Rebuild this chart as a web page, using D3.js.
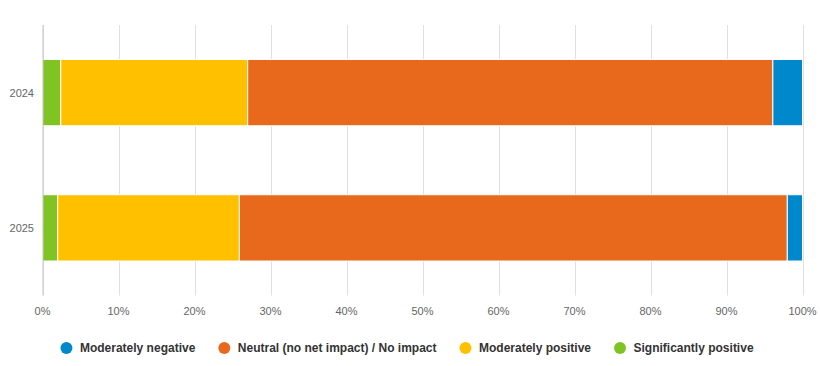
<!DOCTYPE html>
<html><head><meta charset="utf-8">
<script src="https://cdn.jsdelivr.net/npm/d3@7"></script>
<style>body{margin:0;background:#fff}svg{display:block}</style>
</head><body><svg id="c" width="820" height="366"></svg>
<script>
const categories = ["2024", "2025"];
const seriesNames = ["Moderately negative", "Neutral (no net impact) / No impact", "Moderately positive", "Significantly positive"];
const seriesColors = ["#0088cc", "#e8691b", "#ffc000", "#80c423"];
// values per series, aligned with categories (percent)
const moderatelyNegative = [3.9, 2.0];
const neutral = [69.1, 72.1];
const moderatelyPositive = [24.6, 23.9];
const significantlyPositive = [2.4, 2.0];
const tickValues = [0, 0.1, 0.2, 0.3, 0.4, 0.5, 0.6, 0.7, 0.8, 0.9, 1.0];

const seriesValues = [moderatelyNegative, neutral, moderatelyPositive, significantlyPositive];
const svg = d3.select("#c");
const font = "'Liberation Sans', Arial, sans-serif";
const m = {l: 42.5, r: 17.5, t: 25, b: 70.5};
const W = 820, H = 366;
const x = d3.scaleLinear().domain([0, 1]).range([m.l, W - m.r]);
const y = d3.scaleBand().domain(categories).range([m.t, H - m.b]).paddingInner(0.51).paddingOuter(0.255);

// gridlines
svg.append("g").selectAll("line").data(tickValues).join("line")
  .attr("x1", d => Math.round(x(d)) + 0.5).attr("x2", d => Math.round(x(d)) + 0.5)
  .attr("y1", m.t).attr("y2", H - m.b)
  .attr("stroke", "#e0e0e0").attr("stroke-width", 1);

// bars: stack from significantly positive (left) to moderately negative (right)
const rows = categories.map((c, i) => {
  const o = {cat: c};
  seriesNames.forEach((s, j) => o[s] = seriesValues[j][i]);
  return o;
});
const stackOrder = seriesNames.slice().reverse();
const stack = d3.stack().keys(stackOrder).offset(d3.stackOffsetExpand)(rows);
svg.append("g").selectAll("g").data(stack).join("g")
  .attr("fill", d => seriesColors[seriesNames.indexOf(d.key)])
  .selectAll("rect").data(d => d).join("rect")
  .attr("x", d => x(d[0]))
  .attr("width", d => x(d[1]) - x(d[0]))
  .attr("y", d => y(d.data.cat))
  .attr("height", y.bandwidth())
  .attr("stroke", "#fff").attr("stroke-width", 1);

// left axis line
svg.append("line").attr("x1", m.l + 0.5).attr("x2", m.l + 0.5).attr("y1", m.t).attr("y2", H - m.b)
  .attr("stroke", "#c3c3cc").attr("stroke-width", 1);

// category labels
svg.append("g").selectAll("text").data(categories).join("text")
  .attr("x", 34).attr("y", d => y(d) + y.bandwidth() / 2 + 4)
  .attr("text-anchor", "end").attr("font-family", font).attr("font-size", 11).attr("fill", "#666")
  .text(d => d);

// x tick labels
const fmt = d3.format(".0%");
svg.append("g").selectAll("text").data(tickValues).join("text")
  .attr("x", d => x(d)).attr("y", 315)
  .attr("text-anchor", "middle").attr("font-family", font).attr("font-size", 11).attr("fill", "#666")
  .text(d => fmt(d));

// legend
const lg = svg.append("g");
const items = [];
seriesNames.forEach((s, i) => {
  const g = lg.append("g");
  g.append("circle").attr("cx", 6).attr("cy", 0).attr("r", 6).attr("fill", seriesColors[i]);
  const t = g.append("text").attr("x", 19.5).attr("y", 4.3).attr("font-family", font).attr("font-size", 12)
    .attr("font-weight", "bold").attr("fill", "#333").text(s);
  const w = 19.5 + t.node().getComputedTextLength();
  items.push({g, w});
});
const gap = 23;
const total = items.reduce((a, b) => a + b.w, 0) + gap * (items.length - 1);
let start = 407 - total / 2;
items.forEach(it => { it.g.attr("transform", `translate(${start},348)`); start += it.w + gap; });
</script></body></html>
